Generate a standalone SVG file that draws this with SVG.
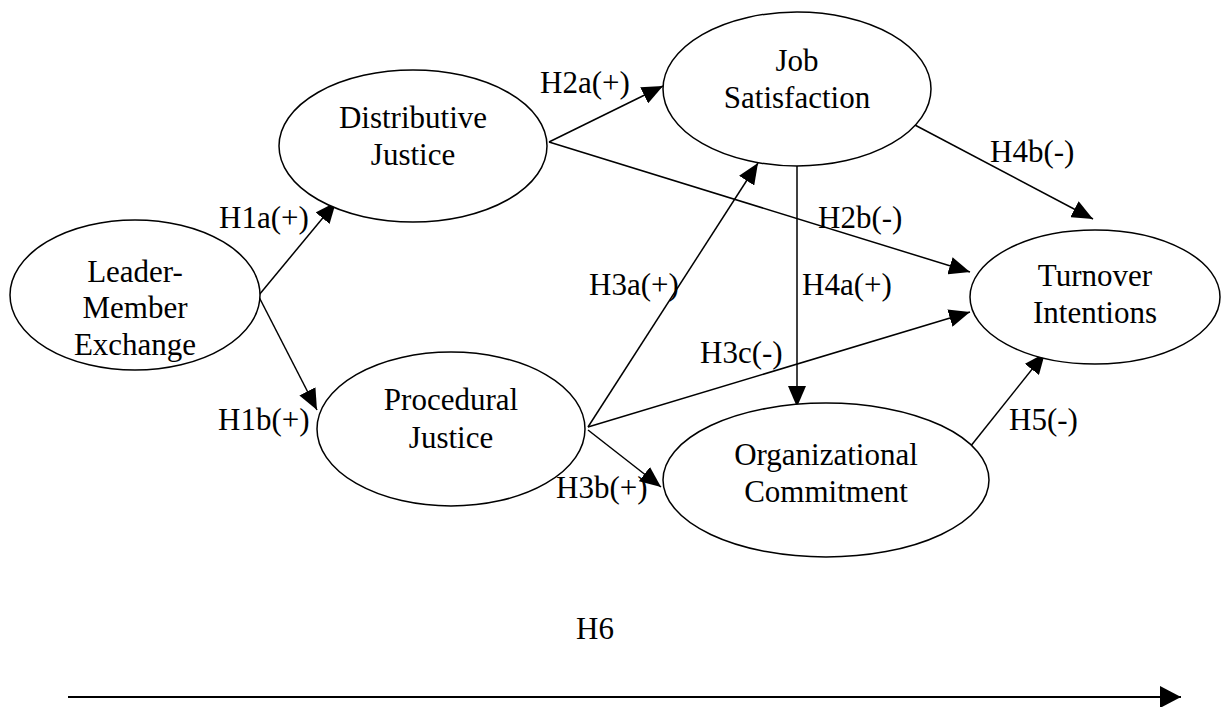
<svg xmlns="http://www.w3.org/2000/svg" width="1221" height="707" viewBox="0 0 1221 707">
  <style>
    .node ellipse { fill: #ffffff; stroke: #000000; stroke-width: 1.5; }
    text { font-family: 'Liberation Serif', Tinos, 'Times New Roman', Times, 'DejaVu Serif', serif; font-size: 31px; fill: #000000; }
    .c { text-anchor: middle; }
    .edge { stroke: #000000; stroke-width: 1.5; fill: none; marker-end: url(#arrow); }
  </style>
  <defs>
    <marker id="arrow" markerUnits="userSpaceOnUse" markerWidth="22" markerHeight="18" refX="21" refY="9" orient="auto">
      <path d="M0,0 L21,9 L0,18 z" fill="#000000"/>
    </marker>
    <marker id="arrowBig" markerUnits="userSpaceOnUse" markerWidth="22" markerHeight="22" refX="21" refY="11" orient="auto">
      <path d="M0,0 L21,11 L0,22 z" fill="#000000"/>
    </marker>
  </defs>
  <rect width="1221" height="707" fill="#ffffff"/>

  <!-- connectors -->
  <g id="connectors">
    <line class="edge" x1="259" y1="295" x2="336" y2="202"/>
    <line class="edge" x1="259" y1="297" x2="317" y2="410"/>
    <line class="edge" x1="549" y1="142" x2="663" y2="86"/>
    <line class="edge" x1="549" y1="142" x2="970" y2="272"/>
    <line class="edge" x1="588" y1="427" x2="758" y2="163"/>
    <line class="edge" x1="588" y1="427" x2="970" y2="312"/>
    <line class="edge" x1="588" y1="430" x2="661" y2="487"/>
    <line class="edge" x1="797" y1="162" x2="797" y2="407"/>
    <line class="edge" x1="913" y1="124" x2="1093" y2="219"/>
    <line class="edge" x1="970" y1="447" x2="1045" y2="353"/>
    <line x1="68" y1="697" x2="1181" y2="697" stroke="#000000" stroke-width="2" marker-end="url(#arrowBig)"/>
  </g>

  <!-- nodes -->
  <g id="lmx" class="node">
    <ellipse cx="135" cy="295" rx="125" ry="75"/>
    <text class="c" x="135" y="282">Leader-</text>
    <text class="c" x="135" y="318">Member</text>
    <text class="c" x="135" y="355">Exchange</text>
  </g>
  <g id="distributive" class="node">
    <ellipse cx="413" cy="146" rx="134" ry="76"/>
    <text class="c" x="413" y="128">Distributive</text>
    <text class="c" x="413" y="165">Justice</text>
  </g>
  <g id="procedural" class="node">
    <ellipse cx="451" cy="429" rx="134" ry="77"/>
    <text class="c" x="451" y="410">Procedural</text>
    <text class="c" x="451" y="448">Justice</text>
  </g>
  <g id="satisfaction" class="node">
    <ellipse cx="797" cy="89" rx="134" ry="77"/>
    <text class="c" x="797" y="71">Job</text>
    <text class="c" x="797" y="108">Satisfaction</text>
  </g>
  <g id="commitment" class="node">
    <ellipse cx="826" cy="480" rx="163" ry="77"/>
    <text class="c" x="826" y="465">Organizational</text>
    <text class="c" x="826" y="502">Commitment</text>
  </g>
  <g id="turnover" class="node">
    <ellipse cx="1095" cy="297" rx="125" ry="67"/>
    <text class="c" x="1095" y="286">Turnover</text>
    <text class="c" x="1095" y="323">Intentions</text>
  </g>

  <!-- path labels -->
  <g id="labels">
    <text x="219" y="228">H1a(+)</text>
    <text x="218" y="430">H1b(+)</text>
    <text x="540" y="93">H2a(+)</text>
    <text x="818" y="228">H2b(-)</text>
    <text x="589" y="295">H3a(+)</text>
    <text x="556" y="498">H3b(+)</text>
    <text x="700" y="363">H3c(-)</text>
    <text x="802" y="295">H4a(+)</text>
    <text x="990" y="162">H4b(-)</text>
    <text x="1009" y="430">H5(-)</text>
    <text x="576" y="639">H6</text>
  </g>
</svg>
